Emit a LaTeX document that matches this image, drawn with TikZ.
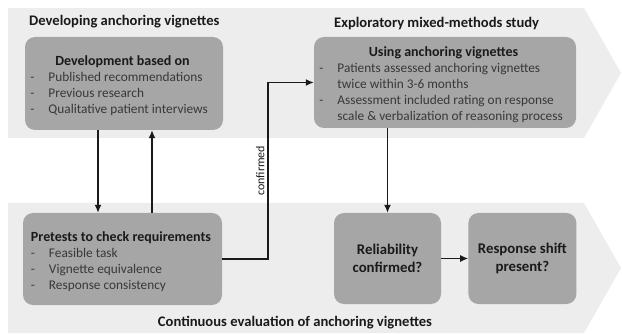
\documentclass[tikz,border=0pt]{standalone}
\usepackage{fontspec}
\setmainfont{Carlito}
\usepackage{xcolor}
\usetikzlibrary{positioning, arrows.meta}

\definecolor{bandgray}{HTML}{EDEDED}
\definecolor{boxgray}{HTML}{A6A6A6}
\definecolor{headtext}{HTML}{1A1A1A}
\definecolor{itemtext}{HTML}{383838}
\definecolor{linegray}{HTML}{1A1A1A}

\newcommand{\boxtitle}[1]{\rule{0pt}{17pt}{\fontsize{14}{16}\selectfont\bfseries\color{headtext}#1}}

\begin{document}
\begin{tikzpicture}[
    x=1pt, y=-1pt,
    font=\fontsize{13.3}{16}\selectfont,
    band/.style={fill=bandgray},
    box/.style={rectangle, rounded corners=10pt, fill=boxgray, inner sep=0pt, align=center, text=itemtext},
    qbox/.style={box, minimum width=107pt, minimum height=91pt, text=headtext, font=\fontsize{14.8}{18}\selectfont\bfseries},
    head/.style={font=\fontsize{14.6}{16}\selectfont\bfseries, text=headtext, inner sep=0pt},
    arrow/.style={-{Latex[length=8pt, width=7pt]}, line width=1.3pt, draw=linegray}
]
\useasboundingbox (0,0) rectangle (622,334);

% Bands
\fill[band] (8,8) -- (584,8) -- (621,73) -- (584,138) -- (8,138) -- cycle;
\fill[band] (8,203) -- (584,203) -- (621,268) -- (584,333) -- (8,333) -- cycle;

% Band titles
\node[head, anchor=west] (develop) at (29,22) {Developing anchoring vignettes};
\node[head, anchor=west] (study) at (334,24) {Exploratory mixed-methods study};
\node[head] (evaluation) at (295,323) {Continuous evaluation of anchoring vignettes};

% Top boxes
\node[box, minimum width=198pt, minimum height=93pt] (dev) at (124,83.5) {
    \begin{tabular}{@{}p{18pt}@{}p{166pt}@{}}
    \multicolumn{2}{@{}c@{}}{\boxtitle{Development based on}}\\
    - & Published recommendations\\
    - & Previous research\\
    - & Qualitative patient interviews
    \end{tabular}
};
\node[box, minimum width=262pt, minimum height=91pt] (use) at (445,82.5) {
    \begin{tabular}{@{}p{18pt}@{}p{230pt}@{}}
    \multicolumn{2}{@{}c@{}}{\boxtitle{Using anchoring vignettes}}\\
    - & Patients assessed anchoring vignettes\\
      & twice within 3-6 months\\
    - & Assessment included rating on response\\
      & scale \& verbalization of reasoning process
    \end{tabular}
};

% Bottom boxes
\node[box, minimum width=199pt, minimum height=92pt] (pre) at (122.5,259) {
    \begin{tabular}{@{}p{18pt}@{}l@{}}
    \multicolumn{2}{@{}l@{}}{\boxtitle{Pretests to check requirements}}\\
    - & Feasible task\\
    - & Vignette equivalence\\
    - & Response consistency
    \end{tabular}
};
\node[qbox] (rel) at (387.5,258.5) {Reliability\\confirmed?};
\node[qbox, minimum width=108pt, right=27pt of rel] (shift) {Response shift\\present?};

% Arrows
\coordinate (down) at (98,0);
\coordinate (up) at (152,0);
\coordinate (turn) at (268,0);
\draw[arrow] (dev.south -| down) -- (pre.north -| down);
\draw[arrow] (pre.north -| up) -- (dev.south -| up);
\draw[arrow] (pre.east) -| (turn |- use.west)
    node[pos=0.75, rotate=90, anchor=south, inner sep=3pt, font=\fontsize{12}{14}\selectfont, text=headtext] (conf) {confirmed}
    -- (use.west);
\draw[arrow] (use.south -| rel) -- (rel.north);
\draw[arrow] (rel.east) -- (shift.west);

\end{tikzpicture}
\end{document}
